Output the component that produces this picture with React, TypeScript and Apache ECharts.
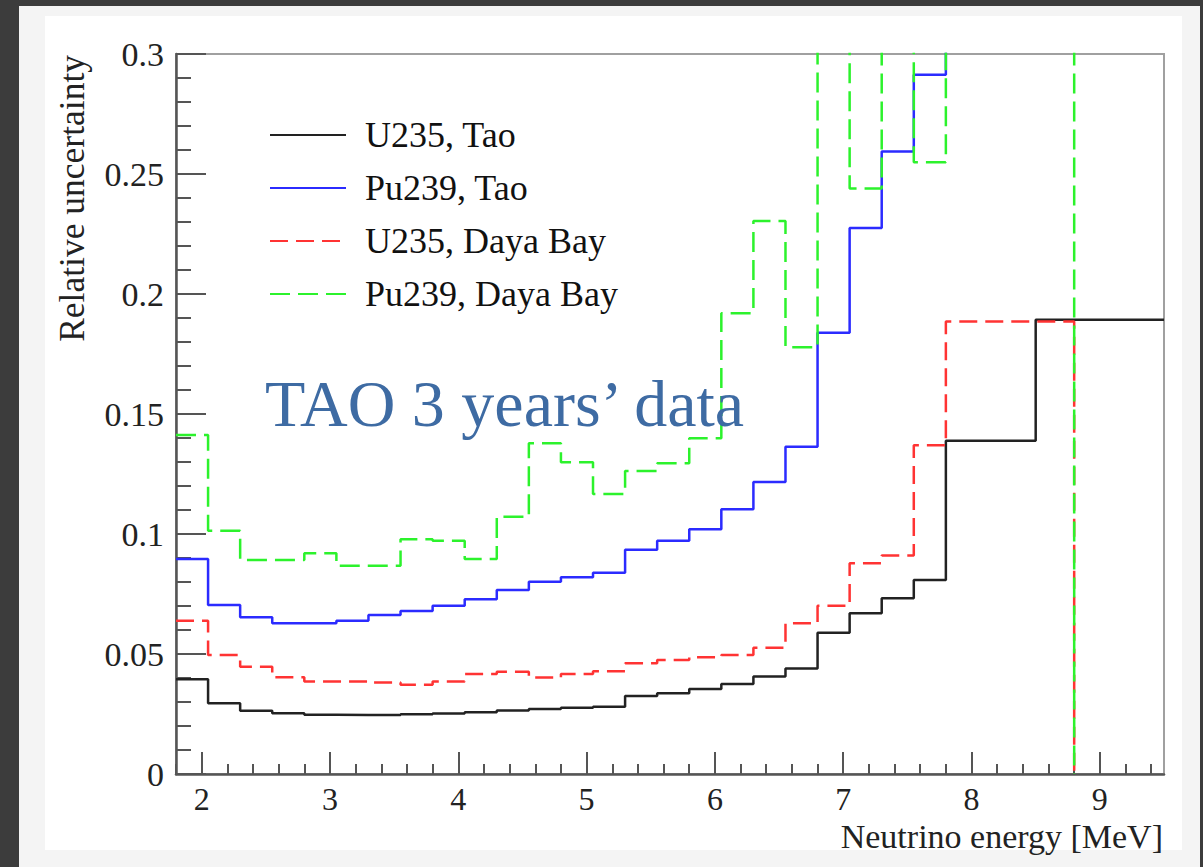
import React, { useEffect, useRef } from "react";
import * as echarts from "echarts";

// Bin edges (MeV)
const fineEdges = [1.8, 2.05, 2.3, 2.55, 2.8, 3.05, 3.3, 3.55, 3.8, 4.05, 4.3, 4.55, 4.8, 5.05, 5.3, 5.55, 5.8, 6.05, 6.3, 6.55, 6.8, 7.05, 7.3, 7.55, 7.8];
const taoEdges = [...fineEdges, 8.5, 9.5];
const dybEdges = [...fineEdges, 8.8];

// Relative uncertainty per bin (values above 0.3 are off-scale in the original)
const u235Tao = [0.0395, 0.0295, 0.0264, 0.0253, 0.0247, 0.0246, 0.0246, 0.0249, 0.0252, 0.0257, 0.0265, 0.0271, 0.0276, 0.028, 0.0325, 0.0336, 0.0354, 0.0375, 0.0406, 0.044, 0.0589, 0.067, 0.0732, 0.0808, 0.1389, 0.1893];
const pu239Tao = [0.0896, 0.0704, 0.0653, 0.0628, 0.0628, 0.0639, 0.0663, 0.0679, 0.0701, 0.0728, 0.0767, 0.0801, 0.082, 0.0839, 0.0934, 0.0972, 0.102, 0.1103, 0.1217, 0.1364, 0.1839, 0.2275, 0.2594, 0.2914, 0.4, 0.4];
const u235Dyb = [0.0639, 0.0496, 0.0447, 0.0403, 0.0385, 0.0385, 0.0381, 0.0372, 0.0385, 0.0417, 0.0426, 0.0402, 0.0417, 0.0428, 0.0461, 0.0475, 0.0486, 0.0496, 0.0526, 0.0628, 0.0701, 0.0878, 0.091, 0.137, 0.1885];
const pu239Dyb = [0.1413, 0.1014, 0.0892, 0.0892, 0.092, 0.0868, 0.0868, 0.0978, 0.0972, 0.0896, 0.1072, 0.1378, 0.1299, 0.1167, 0.1262, 0.1295, 0.1399, 0.192, 0.2304, 0.1778, 0.4, 0.244, 0.4, 0.2549, 0.4];

const seriesNames = ["U235, Tao", "Pu239, Tao", "U235, Daya Bay", "Pu239, Daya Bay"];
const xTickLabels = [2, 3, 4, 5, 6, 7, 8, 9];
const yTickLabels = [0, 0.05, 0.1, 0.15, 0.2, 0.25, 0.3];
const annotation = "TAO 3 years\u2019 data";
const xTitle = "Neutrino energy [MeV]";
const yTitle = "Relative uncertainty";

const FONT = "'Liberation Serif', 'DejaVu Serif', serif";

function histPoints(edges: number[], values: number[], dropToZero: boolean) {
  const pts: number[][] = values.map((v, i) => [edges[i], v]);
  pts.push([edges[edges.length - 1], dropToZero ? 0 : values[values.length - 1]]);
  return pts;
}

const minorTicks: number[] = [];
for (let k = 9; k <= 47; k++) {
  if (k % 5 !== 0) minorTicks.push(Math.round(k * 2) / 10);
}

export default function App() {
  const ref = useRef<HTMLDivElement>(null);
  useEffect(() => {
    if (!ref.current) return;
    const chart = echarts.init(ref.current, undefined, { renderer: "svg" });
    const lineBase = (name: string, data: number[][], color: string, dash: any) => ({
      name,
      type: "line",
      data,
      step: "end",
      symbol: "none",
      clip: true,
      lineStyle: { color, width: 2.5, type: dash },
      itemStyle: { color },
      emphasis: { disabled: true },
    });
    const axisColor = "#555";
    chart.setOption({
      animation: false,
      backgroundColor: "transparent",
      grid: {
        left: 176,
        top: 54,
        width: 988,
        height: 720,
        show: true,
        borderColor: "#a0a0a0",
        borderWidth: 2,
        backgroundColor: "transparent",
      },
      xAxis: [
        {
          type: "value",
          min: 1.8,
          max: 9.5,
          position: "bottom",
          axisLine: { show: true, onZero: false, lineStyle: { color: axisColor, width: 2.5 } },
          axisTick: { show: true, inside: true, length: 22, customValues: xTickLabels, lineStyle: { color: axisColor, width: 2 } },
          axisLabel: { show: true, customValues: xTickLabels, margin: 9, fontFamily: FONT, fontSize: 32, color: "#222" },
          splitLine: { show: false },
        },
        {
          type: "value",
          min: 1.8,
          max: 9.5,
          position: "bottom",
          axisLine: { show: false },
          axisTick: { show: true, inside: true, length: 10, customValues: minorTicks, lineStyle: { color: axisColor, width: 2 } },
          axisLabel: { show: false },
          splitLine: { show: false },
        },
      ],
      yAxis: {
        type: "value",
        min: 0,
        max: 0.3,
        interval: 0.05,
        axisLine: { show: true, lineStyle: { color: axisColor, width: 2.5 } },
        axisTick: { show: true, inside: true, length: 30, lineStyle: { color: axisColor, width: 2 } },
        minorTick: { show: true, splitNumber: 5, length: 15, lineStyle: { color: axisColor, width: 2 } },
        axisLabel: {
          margin: 12,
          fontFamily: FONT,
          fontSize: 34,
          color: "#222",
          formatter: (v: number) => {
            const m = yTickLabels.find((t) => Math.abs(t - v) < 1e-9);
            return m === undefined ? "" : String(m);
          },
        },
        splitLine: { show: false },
      },
      legend: {
        orient: "vertical",
        left: 269,
        top: 117,
        padding: 0,
        itemWidth: 76,
        itemHeight: 14,
        itemGap: 17,
        selectedMode: false,
        data: seriesNames,
        itemStyle: { opacity: 0, color: "transparent", borderWidth: 0 },
        textStyle: { fontFamily: FONT, fontSize: 36, color: "#111", padding: [0, 0, 0, 14] },
      },
      series: [
        lineBase(seriesNames[0], histPoints(taoEdges, u235Tao, false), "#222222", "solid"),
        lineBase(seriesNames[1], histPoints(taoEdges, pu239Tao, false), "#2b2bff", "solid"),
        lineBase(seriesNames[2], histPoints(dybEdges, u235Dyb, true), "#ff3333", [18, 8]),
        lineBase(seriesNames[3], histPoints(dybEdges, pu239Dyb, true), "#2cf22c", [20, 8]),
      ],
      graphic: [
        {
          type: "text",
          x: 265,
          y: 403,
          z: 100,
          style: { text: annotation, font: `66px ${FONT}`, fill: "#3e6ba3", align: "left", verticalAlign: "middle" },
        },
        {
          type: "text",
          x: 1163,
          y: 836,
          z: 100,
          style: { text: xTitle, font: `34px ${FONT}`, fill: "#222", align: "right", verticalAlign: "middle" },
        },
        {
          type: "text",
          x: 72,
          y: 55,
          rotation: Math.PI / 2,
          z: 100,
          style: { text: yTitle, font: `35.5px ${FONT}`, fill: "#222", align: "right", verticalAlign: "middle" },
        },
      ],
    });
    return () => chart.dispose();
  }, []);

  return (
    <div style={{ position: "fixed", left: 0, top: 0, width: 1203, height: 867, background: "#3c3c3c", overflow: "hidden" }}>
      <div style={{ position: "absolute", left: 19, top: 6, width: 1181, height: 861, background: "#f4f4f4" }} />
      <div style={{ position: "absolute", left: 45, top: 16, width: 1137, height: 834, background: "#ffffff" }} />
      <div ref={ref} style={{ position: "absolute", left: 0, top: 0, width: 1203, height: 867 }} />
    </div>
  );
}
